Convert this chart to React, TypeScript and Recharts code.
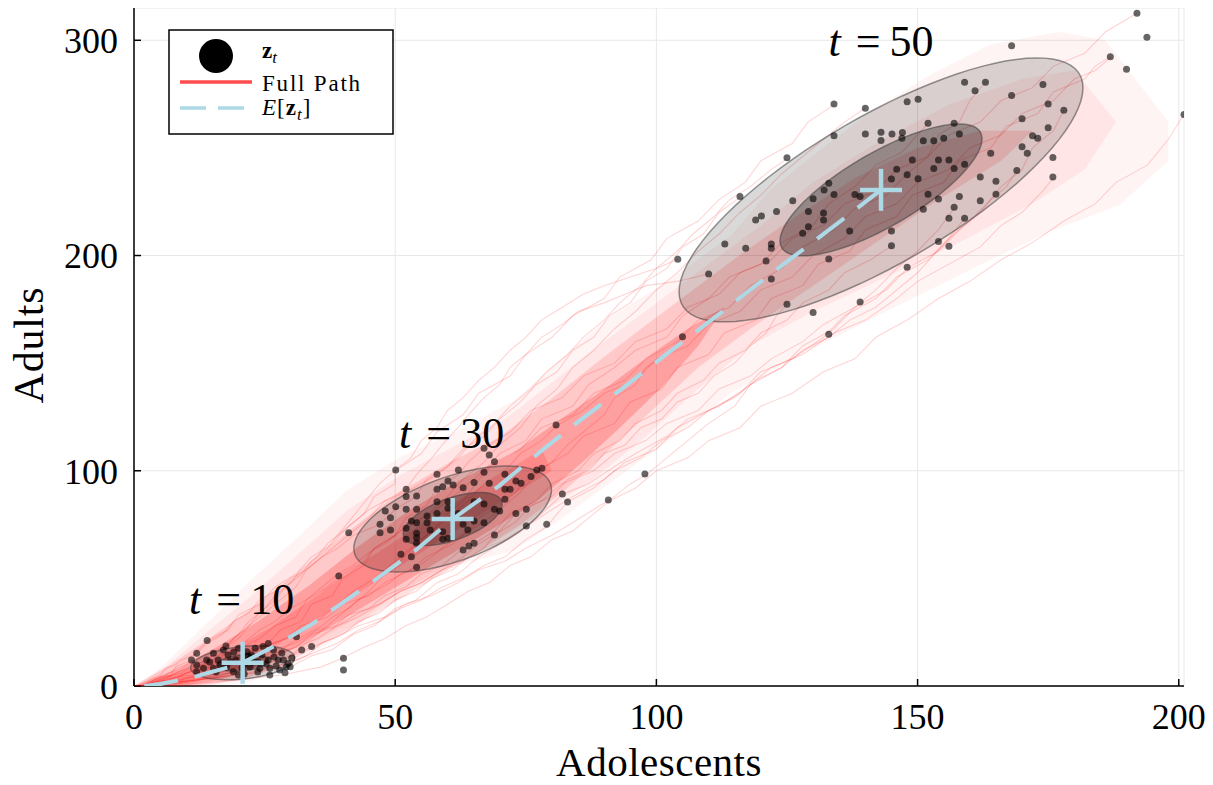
import React from 'react';
import { ComposedChart, Scatter, XAxis, YAxis, CartesianGrid, Legend } from 'recharts';

type P = [number, number];

const FONT = "'Liberation Serif', 'DejaVu Serif', serif";

const xTicks = [0, 50, 100, 150, 200];
const yTicks = [0, 100, 200, 300];

// sampled states z_t at t = 10, 30, 50
const pointsT10: P[] = [
  [14.0,21.1],[12.0,15.2],[11.0,12.1],[12.0,9.8],[12.0,6.6],[13.9,12.1],[15.2,15.2],[16.1,12.1],[17.1,16.7],[17.7,9.0],
  [19.0,6.6],[20.0,17.5],[21.6,15.9],[22.5,14.4],[23.2,17.5],[24.7,18.3],[25.7,19.8],[26.7,16.7],[23.8,11.3],[25.7,12.1],
  [27.6,12.1],[28.6,12.1],[29.5,10.5],[29.9,9.0],[27.9,7.4],[26.0,8.2],[24.1,8.2],[22.2,9.0],[28.9,6.2],[20.0,5.1],
  [15.2,8.2],[32.1,16.7],[34.0,18.3],[31.1,22.9],[40.1,12.9],[40.1,7.4],[13.3,8.2],[22.2,12.9],[21.2,10.5],[18.4,11.3],
  [16.5,9.8],[18.0,14.4],[19.5,12.1],[20.7,8.4],[21.8,13.9],[23.0,11.2],[24.5,14.4],[25.3,10.2],[26.8,13.5],[27.2,9.3],
  [28.3,15.3],[30.2,13.0],[14.5,11.2],[15.7,6.5],[23.7,6.5],[26.0,5.1],[21.1,5.6],[17.6,18.6],[19.1,15.8],[29.1,8.8],
];

const pointsT30: P[] = [
  [67.0,110.5],[68.0,107.3],[69.0,104.2],[50.1,100.4],[58.0,98.4],[62.1,100.4],[67.0,99.3],[71.0,98.4],[76.0,97.3],[77.1,100.4],
  [78.1,101.2],[60.1,95.3],[59.1,92.6],[61.1,93.4],[65.1,94.5],[68.0,94.2],[73.1,95.3],[74.1,94.2],[63.0,92.1],[71.0,91.4],
  [72.0,91.4],[52.1,91.4],[58.0,91.4],[52.1,88.0],[54.1,88.3],[58.0,85.6],[60.1,85.6],[65.1,85.6],[67.0,84.6],[71.0,86.8],
  [82.0,89.2],[83.0,85.5],[50.1,83.3],[48.1,81.3],[52.1,82.1],[54.1,82.1],[60.1,82.6],[69.0,82.1],[70.0,81.3],[75.1,82.1],
  [73.1,80.2],[49.1,78.2],[56.1,79.0],[58.0,80.2],[62.1,80.2],[47.1,75.1],[53.1,76.7],[54.1,75.9],[56.1,75.9],[65.1,76.7],
  [67.0,75.9],[63.0,75.1],[79.0,75.1],[75.1,74.3],[41.1,71.2],[47.1,71.2],[49.1,72.5],[52.1,73.3],[54.1,71.0],[56.7,72.5],
  [59.1,71.7],[63.9,72.5],[52.1,68.2],[54.1,68.9],[59.1,68.2],[60.1,68.6],[69.0,70.2],[65.1,66.3],[64.1,65.1],[63.0,63.2],
  [54.1,66.3],[51.1,61.2],[53.1,60.1],[54.1,55.2],[39.2,51.1],[80.8,121.3],[97.8,98.5],[90.8,86.4],
];

const pointsT50: P[] = [
  [192.0,312.6],[193.9,301.4],[186.9,292.4],[190.0,286.6],[201.0,265.5],[168.0,297.5],[159.0,280.5],[163.0,280.5],[161.0,276.6],[174.0,279.4],
  [168.0,274.3],[175.0,270.4],[178.0,267.5],[148.0,271.5],[150.1,272.6],[170.0,263.5],[175.0,259.4],[172.0,255.6],[173.0,254.5],[152.0,261.5],
  [157.0,261.5],[158.0,256.5],[147.1,257.1],[151.1,253.3],[153.1,253.3],[155.0,254.5],[170.0,250.5],[171.0,247.5],[175.9,245.5],[164.0,247.5],
  [149.0,244.4],[154.0,244.4],[156.0,244.4],[159.0,242.4],[153.1,240.4],[157.0,240.4],[148.0,237.5],[150.1,235.7],[169.0,239.5],[175.9,236.5],
  [162.0,236.5],[165.0,234.5],[165.0,228.5],[162.0,225.4],[158.0,227.4],[152.0,228.5],[154.0,226.3],[157.0,222.4],[151.1,221.5],[156.0,217.3],
  [159.0,217.3],[154.0,206.5],[156.0,204.3],[148.0,194.6],[134.0,270.4],[140.0,268.4],[134.0,255.6],[140.0,256.5],[143.0,257.3],[143.0,253.4],
  [145.1,256.5],[125.0,245.4],[116.0,227.4],[126.1,225.5],[123.0,220.4],[120.1,218.4],[119.0,216.5],[133.0,233.6],[132.1,230.5],[130.0,226.4],
  [134.0,228.3],[138.0,228.3],[139.0,227.4],[129.1,220.4],[132.0,219.7],[132.0,216.5],[129.1,213.4],[128.0,210.4],[137.0,211.4],[145.0,211.4],
  [145.0,204.5],[133.0,198.4],[113.1,205.4],[117.1,203.4],[122.0,205.4],[122.0,203.4],[121.0,197.5],[104.1,198.3],[110.0,191.4],[122.0,189.1],
  [125.0,177.4],[130.0,173.5],[139.0,178.4],[133.0,163.4],[105.0,162.3],[146.0,240.1],[145.0,235.5],[147.0,254.5],
];

// expected value E[z_t]
const meanPath: P[] = [
  [2,0],[5,0.9],[8.5,2.6],[12,4.6],[15,6.6],[18,8.6],[20.8,10.8],[26.7,18.3],[34.3,29.1],[40.7,40],[47,50.8],[54,63.2],
  [61,77.6],[70,93.2],[78.2,109.7],[86,124.6],[94.1,139.4],[102,154.3],[110.2,169.4],[118,184.2],[126,199],[134.5,214.6],[143,230.5],
];
const meanMarks: P[] = [[20.8,10.8],[61.0,77.6],[143.0,230.5]];

const timeLabels = [
  { x: 20.6, y: 33.5, t: '10' },
  { x: 60.8, y: 110.6, t: '30' },
  { x: 143.0, y: 292.8, t: '50' },
];

// 1-sigma spread of z_t: mean and lower-triangular factor [[a,0],[b,c]]
const spreadT10 = { mx: 20.8, my: 10.8, a: 4.98, b: 1.16, c: 3.78 };
const spreadT30 = { mx: 61.0, my: 77.6, a: 9.46, b: 6.82, c: 10.25 };
const spreadT50 = { mx: 143.0, my: 230.5, a: 19.33, b: 23.7, c: 19.45 };

// density envelopes of all simulated paths (outer → inner)
const bandOuter: P[] = [
  [0,0],[5.0,8.4],[12.6,26.0],[21.8,47.9],[31.8,70.2],[40.8,91.1],[50.9,106.4],[62.4,119.0],[72.9,132.9],[81.5,151.5],
  [91.1,171.5],[102.6,188.7],[114.4,209.6],[121.7,230.5],[131.3,249.1],[140.9,266.7],[152.3,283.9],[163.8,297.9],[177.2,304],[186,300],
  [198,262],[198,244],[188.7,223.5],[175.3,211.0],[161.9,195.6],[148.5,179.4],[137.0,165.4],[125.6,151.5],[114.4,136.2],[102.6,114.3],
  [91.1,94.3],[81.5,77.1],[72.9,63.2],[62.4,56.2],[50.9,44.6],[40.8,24.6],[31.8,12.1],[21.8,1.4],[12.6,0],
];
const bandMid: P[] = [
  [0,0],[6,9],[13.5,24],[22,41],[31.8,62],[41,82],[51,98],[61,111],[71,124],[80,141],[90,160],[100,178],[110,196],[120,214],
  [130,234],[142,252],[156,270],[170,282],[180,286],
  [188,262],[182,240],[172,224],[158,206],[144,190],[130,174],[118,158],[108,138],[98,116],[88,96],[79,82],[70,68],[60,56],
  [50,42],[40,28],[31,15],[23,5],[14,0],
];
const bandCore: P[] = [
  [0,0],[6.9,9.8],[14.5,22.3],[22.2,35.3],[31.8,53],[41.3,72.5],[50.9,90.1],[60.5,104.1],[70,115.7],[79.6,132.9],
  [89.2,151.5],[98.8,169.1],[108.3,186.3],[116,200.3],[126,217],[138,236],[150,250],[162,258],[172,258],
  [166,244],[154,226],[142,206],[130,186],[118,166],[108,148],[100,130],[92,112],[83,92],[74,75],[64.3,60],
  [54.7,46],[45.2,32],[35.6,19],[27.9,9],[20.3,2.5],[10.7,0],
];
const bandDeep: P[] = [
  [0,0],[8.8,8.4],[16.5,19],[24.1,30.7],[33.7,47],[43.3,65.5],[52.8,81.8],[62.4,95.7],[72,107.3],[81.5,123.6],[91.1,139.9],
  [98.8,153.8],[106,166],[113,176],
  [108,158],[100.7,138],[93,120],[85.4,103],[77.7,87],[70,75],[60.5,61],[50.9,47],[41.3,33],[31.8,19],[24.1,9.8],[16.5,2.8],[8.8,0],
];
const bandInner: P[] = [
  [0,0],[10,7],[18,16],[26,27],[35,42],[44,58],[53,72],[62,86],[70,98],[78,110],
  [80,100],[72,88],[64,76],[55,62],[46,48],[37,34],[28,20],[20,9],[12,2],[5,0],
];

// a selection of individual simulated paths
const path01: P[] = [[2,0],[4,3],[7,5],[8,9],[11,12],[12,16],[14,21],[18,26],[20,33],[24,38],[27,46],[31,52],[34,60],[38,66],[41,74],[44,80],[46,88],[50,94],[50,100],[55,108],[58,118],[63,126],[66,136],[72,144],[75,154],[80,162],[84,172],[90,180],[93,190],[99,198],[102,208],[108,216],[112,226],[117,234],[120,244],[126,252],[129,262],[134,270]];
const path02: P[] = [[2,0],[6,1],[9,2],[13,3],[16,4],[19,5],[23,6],[26,8],[30,9],[34,14],[38,17],[42,24],[46,28],[50,36],[54,40],[58,48],[62,52],[66,60],[70,66],[74,72],[78,80],[82,89],[87,94],[92,102],[96,108],[102,116],[106,124],[112,130],[118,140],[122,148],[128,154],[134,164],[140,170],[146,180],[150,188],[156,196],[162,204],[166,214],[170,220],[174,230],[176,236]];
const path03: P[] = [[2,0],[5,2],[8,6],[10,8],[13,11],[15,14],[18,15],[20,17.5],[24,22],[27,28],[31,32],[33,40],[37,46],[40,52],[44,58],[46,64],[50,70],[53,76],[57,80],[60,86],[63,92],[67,100],[70,108],[75,114],[78,124],[84,130],[87,140],[92,148],[96,156],[102,162],[105,172],[110,180],[114,190],[120,196],[124,206],[130,214],[133,224],[138,232],[142,242],[147,248],[150,256],[152,261.5]];
const path04: P[] = [[2,0],[6,2],[9,3],[13,6],[16,7],[19,10],[22,11],[25,14],[27,17],[31,20],[35,26],[39,28],[43,34],[47,38],[51,44],[55,48],[59,54],[63,58],[67,64],[71,68],[75,74],[80,82],[84,88],[90,96],[94,104],[100,110],[104,120],[110,128],[116,136],[120,146],[126,152],[132,162],[136,172],[142,180],[146,190],[152,198],[156,208],[160,216],[164,226],[167,232],[169,239.5]];
const path05: P[] = [[2,0],[3,3],[5,5],[6,8],[8,10],[9,12],[12,15],[14,20],[17,24],[19,30],[22,34],[24,40],[27,44],[30,50],[33,54],[36,60],[39,64],[42,70],[47,75],[50,82],[54,88],[56,96],[60,102],[63,110],[67,116],[70,124],[74,132],[77,140],[81,146],[84,156],[88,162],[91,172],[95,178],[98,188],[102,194],[105,204],[109,210],[112,220],[116,227]];
const path06: P[] = [[2,0],[5,1],[8,3],[11,4],[14,6],[17,7],[20,9],[24,11],[27,15],[31,18],[34,24],[38,27],[41,33],[45,36],[48,42],[52,46],[55,52],[59,56],[62,62],[65,66],[69,72],[72,80],[77,86],[80,94],[85,100],[88,108],[93,114],[96,122],[101,128],[104,136],[109,142],[112,150],[117,156],[120,164],[125,170],[128,178],[133,184],[136,192],[141,198],[145,204.5]];
const path07: P[] = [[2,0],[7,1],[11,1],[16,2],[20,3],[24,4],[28,5],[32,7],[36,9],[40,13],[44,18],[48,22],[52,28],[56,32],[60,38],[64,44],[68,48],[72,56],[76,60],[80,68],[84,72],[88,80],[91,86],[96,92],[100,100],[106,106],[110,114],[116,120],[120,130],[126,136],[132,146],[138,152],[142,162],[148,170],[154,180],[160,188],[166,198],[172,206],[178,216],[184,224],[188,234],[194,242],[198,254],[201,265.5]];
const path08: P[] = [[2,0],[5,3],[8,4],[11,7],[14,9],[17,12],[20,14],[23,17],[26,19],[29,22],[31,23],[35,30],[38,36],[42,44],[46,50],[50,58],[53,64],[57,72],[60,78],[64,86],[67,94],[71,100],[74,108],[78,114],[81,121],[86,128],[90,136],[96,142],[100,152],[106,158],[110,168],[116,174],[120,184],[126,190],[130,200],[136,208],[140,218],[146,224],[150,234],[156,240],[160,250],[166,256],[170,266],[176,272],[180,282],[184,286],[187,292]];
const path09: P[] = [[2,0],[4,2],[6,4],[9,6],[11,9],[13,11],[15,14],[17,17],[20,22],[22,28],[25,34],[28,40],[31,46],[33,54],[36,60],[39,66],[42,72],[45,78],[48,86],[52,90],[55,94],[58,98],[62,106],[65,114],[69,122],[72,130],[76,138],[79,146],[83,154],[86,162],[90,170],[93,178],[97,186],[100,194],[104,202],[107,210],[111,218],[114,226],[118,232],[122,240],[125,245]];
const path10: P[] = [[2,0],[5,1],[8,2],[11,4],[14,5],[17,7],[20,8],[23,9],[26,11],[29,12],[32,18],[35,24],[38,30],[42,38],[45,44],[48,52],[51,58],[54,66],[57,72],[60,80],[63,86],[66,96],[69,104],[74,110],[78,120],[84,126],[88,136],[94,142],[98,152],[104,160],[108,170],[114,176],[118,186],[124,194],[128,204],[134,212],[138,222],[144,228],[148,238],[152,246],[154,256],[158,262],[160,272],[163,280.5]];
const path11: P[] = [[2,0],[5,1],[8,2],[11,3],[13,5],[16,6],[19,8],[22,9],[25,12],[28,16],[30,20],[33,24],[36,28],[38,32],[41,36],[43,40],[46,44],[49,48],[51,52],[54,55],[57,60],[60,66],[64,72],[66,78],[70,84],[73,90],[76,98],[80,104],[83,112],[86,118],[90,126],[92,134],[96,140],[98,148],[102,154],[105,162]];
const path12: P[] = [[2,0],[6,1],[10,2],[14,4],[18,6],[22,8],[26,11],[30,14],[34,18],[38,22],[43,28],[48,32],[52,38],[57,42],[62,48],[66,54],[71,58],[75,64],[80,70],[84,76],[88,82],[92,88],[95,94],[98,98],[102,106],[106,114],[110,122],[115,130],[118,140],[124,148],[128,158],[134,166],[138,176],[144,184],[148,194],[154,202],[158,212],[162,220],[166,232],[170,240],[172,250],[176,258],[178,267.5]];
const path13: P[] = [[2,0],[4,2],[7,3],[9,5],[11,7],[13,9],[16,12],[18,16],[21,20],[24,26],[27,30],[30,36],[33,40],[36,46],[39,52],[42,56],[45,62],[48,66],[51,72],[54,76],[56,79],[60,88],[63,96],[67,104],[70,112],[74,120],[77,130],[81,138],[84,148],[88,156],[92,166],[96,174],[100,184],[104,192],[108,202],[112,210],[116,220],[120,228],[124,238],[128,246],[132,254],[136,262],[140,268.4]];
const path14: P[] = [[2,0],[5,1],[8,1],[11,2],[13,3],[16,4],[19,6.6],[23,10],[27,14],[31,18],[35,22],[39,28],[43,32],[47,38],[51,44],[55,48],[59,54],[63,60],[66,66],[70,72],[73,80],[78,86],[82,94],[88,100],[92,108],[98,114],[102,122],[108,128],[112,138],[118,144],[122,152],[128,160],[132,168],[138,176],[142,184],[146,194],[150,202],[154,212],[157,222]];
const path15: P[] = [[2,0],[4,2],[8,3],[10,6],[14,8],[16,11],[20,13],[22,16],[25.7,19.8],[28,26],[32,30],[34,38],[38,42],[40,50],[44,56],[46,64],[50,70],[52,78],[56,84],[58,92],[62,98],[64,104],[67,110.5],[72,118],[76,128],[82,134],[86,144],[92,150],[96,160],[102,166],[106,176],[112,182],[116,192],[122,198],[126,208],[132,214],[136,224],[142,230],[146,240],[152,246],[156,256],[162,262],[166,272],[172,278],[176,288],[182,294],[186,304],[192,312.6]];
const path16: P[] = [[2,0],[5,2],[8,4],[11,5],[14,8],[17,10],[20,13],[22,15],[24.7,18.3],[29,22],[32,28],[37,32],[40,38],[45,42],[48,48],[53,54],[56,60],[61,66],[64,72],[68,78],[71,84],[74,90],[76,96],[78.1,101.2],[83,108],[86,116],[92,122],[95,132],[101,138],[104,148],[110,154],[113,164],[119,170],[122,180],[128,186],[131,196],[137,202],[140,212],[146,218],[149,228],[155,234],[158,244],[164,250],[167,260],[173,266],[176,276],[182,282],[184,288],[186.9,292.4]];
const path17: P[] = [[2,0],[4,3],[6,5],[8,8],[10,10],[12,13],[14,15],[16,17],[17.6,18.6],[20,24],[22,30],[25,36],[27,42],[30,48],[32,54],[35,60],[37,66],[40,72],[42,76],[45,82],[48,86],[52.1,91.4],[54,98],[57,106],[59,112],[62,120],[64,126],[67,134],[70,140],[72,148],[75,154],[78,162],[82,168],[85,174],[90,178],[94,182],[98,186],[104,188],[110,191.4]];
const path18: P[] = [[2,0],[6,1],[9,2],[12,3],[15,4],[18,6],[21,7],[24,8],[27,9],[29.5,10.5],[33,14],[36,20],[40,24],[43,30],[47,34],[50,40],[54,44],[57,50],[61,54],[64,60],[67,64],[69,70.2],[73,76],[76,84],[80,88],[83,96],[87,100],[90,108],[94,112],[97,120],[101,124],[104,132],[108,136],[111,144],[115,150],[118,158],[121,164],[123,172],[125,177.4]];
const path19: P[] = [[2,0],[6,1],[9,2],[13,3],[16,4],[19,5],[22,6],[25,8],[27.2,9.3],[31,12],[35,16],[39,20],[43,26],[47,30],[51,36],[55,40],[59,46],[63,50],[67,56],[71,60],[75,68],[79,74],[81,80],[83,85.5],[88,92],[92,100],[97,106],[101,114],[106,120],[110,128],[115,134],[119,142],[124,148],[128,156],[133,162],[137,170],[142,176],[146,184],[150,192],[153,200],[156,208],[159,217.3]];
const path20: P[] = [[2,0],[3,2],[5,4],[7,5],[9,7],[11,8],[13,10],[14.5,11.2],[17,16],[19,22],[22,28],[24,34],[27,40],[29,46],[32,52],[34,58],[37,64],[39,70],[41,76],[43,82],[45,88],[47,94],[50.1,100.4],[53,106],[55,114],[58,120],[60,128],[63,134],[66,142],[69,148],[72,156],[75,162],[78,170],[82,176],[86,182],[90,186],[95,190],[100,194],[104.1,198.3]];
const samplePaths: P[][] = [
  path01, path02, path03, path04, path05, path06, path07, path08, path09, path10,
  path11, path12, path13, path14, path15, path16, path17, path18, path19, path20,
];

const toXY = (arr: P[]) => arr.map(([x, y]) => ({ x, y }));

const ellipse = (e: { mx: number; my: number; a: number; b: number; c: number }, k: number) => {
  const pts: { x: number; y: number }[] = [];
  for (let i = 0; i <= 90; i++) {
    const th = (i / 90) * 2 * Math.PI;
    pts.push({ x: e.mx + k * e.a * Math.cos(th), y: e.my + k * (e.b * Math.cos(th) + e.c * Math.sin(th)) });
  }
  return pts;
};

const closedShape = (style: any) => (props: any) => {
  const pts = (props && props.points) || [];
  if (!pts.length) return <g />;
  const d = pts.map((p: any, i: number) => `${i ? 'L' : 'M'}${p.x},${p.y}`).join('') + 'Z';
  return <path d={d} {...style} />;
};

const Empty = () => <g />;
const Dot = (p: any) => <circle cx={p.cx} cy={p.cy} r={3.5} fill="#000" fillOpacity={0.6} />;
const Cross = (p: any) => (
  <g stroke="#add8e6" strokeWidth={4.5}>
    <line x1={p.cx - 21} y1={p.cy} x2={p.cx + 21} y2={p.cy} />
    <line x1={p.cx} y1={p.cy - 21} x2={p.cx} y2={p.cy + 21} />
  </g>
);
const TimeLabel = (p: any) => (
  <text x={p.cx} y={p.cy} textAnchor="middle" fontSize={44} fill="#000" fontFamily={FONT}>
    <tspan fontStyle="italic">t</tspan>
    <tspan dx={15}>=</tspan>
    <tspan dx={9}>{p.payload && p.payload.t}</tspan>
  </text>
);

const XLabel = (props: any) => {
  const vb = props.viewBox || { x: 126, y: 678, width: 1050, height: 99 };
  return (
    <text x={vb.x + vb.width / 2} y={vb.y + 90} textAnchor="middle" fontSize={41} fill="#000" fontFamily={FONT} letterSpacing={0.5}>
      Adolescents
    </text>
  );
};
const YLabel = (props: any) => {
  const vb = props.viewBox || { x: 0, y: 0, width: 126, height: 678 };
  const x = vb.x + 35;
  const y = vb.y + vb.height / 2 - 2;
  return (
    <g transform={`translate(${x}, ${y}) rotate(-90)`}>
      <text x={0} y={0} textAnchor="middle" fontSize={42} fill="#000" fontFamily={FONT} letterSpacing={0.8}>
        Adults
      </text>
    </g>
  );
};

const LegendBox = () => (
  <svg width={228} height={108} style={{ display: 'block' }}>
    <rect x={1} y={1} width={224} height={104} fill="#fff" stroke="#000" strokeWidth={1.5} />
    <circle cx={48} cy={27} r={17} fill="#000" />
    <text x={94} y={29} fontSize={23} fontFamily={FONT} fill="#000">
      <tspan fontWeight="bold">z</tspan>
      <tspan fontSize={17} fontStyle="italic" dy={5}>t</tspan>
    </text>
    <line x1={12} y1={53} x2={84} y2={53} stroke="#ff4d4d" strokeWidth={3.3} />
    <text x={94} y={62} fontSize={23} fontFamily={FONT} fill="#000" letterSpacing={1.8}>Full Path</text>
    <line x1={12} y1={79} x2={80} y2={79} stroke="#add8e6" strokeWidth={3.3} strokeDasharray="26 12" />
    <text x={94} y={86} fontSize={23} fontFamily={FONT} fill="#000" letterSpacing={1}>
      <tspan fontStyle="italic">E</tspan>
      <tspan>[</tspan>
      <tspan fontWeight="bold">z</tspan>
      <tspan fontSize={17} fontStyle="italic" dy={5}>t</tspan>
      <tspan dy={-5}>]</tspan>
    </text>
  </svg>
);

export default function App() {
  const ellipses = [spreadT10, spreadT30, spreadT50];
  const bands: [P[], number][] = [[bandOuter, 0.045], [bandMid, 0.06], [bandCore, 0.12], [bandDeep, 0.2], [bandInner, 0.15]];
  return (
    <div style={{ fontFamily: FONT, width: 1205, height: 777 }}>
      <ComposedChart width={1205} height={777} margin={{ top: 0, right: 29, bottom: 0, left: 0 }}>
        <CartesianGrid stroke="#e8e8e8" strokeWidth={1} />
        <XAxis
          type="number"
          dataKey="x"
          domain={[0, 201]}
          ticks={xTicks}
          allowDataOverflow
          height={99}
          axisLine={{ stroke: '#000', strokeWidth: 1.5 }}
          tickLine={{ stroke: '#000', strokeWidth: 1.5 }}
          tickSize={-7}
          tickMargin={24}
          tick={{ fontSize: 36, fill: '#000', fontFamily: FONT }}
          label={XLabel}
        />
        <YAxis
          type="number"
          dataKey="y"
          domain={[0, 315]}
          ticks={yTicks}
          allowDataOverflow
          width={126}
          axisLine={{ stroke: '#000', strokeWidth: 1.5 }}
          tickLine={{ stroke: '#000', strokeWidth: 1.5 }}
          tickSize={-7}
          tickMargin={23}
          tick={{ fontSize: 36, fill: '#000', fontFamily: FONT }}
          label={YLabel}
        />
        {bands.map(([b, a], i) => (
          <Scatter key={`band-${i}`} data={toXY(b)} shape={Empty} line={closedShape({ fill: '#ff0000', fillOpacity: a, stroke: 'none' })} isAnimationActive={false} legendType="none" />
        ))}
        {samplePaths.map((p, i) => (
          <Scatter key={`path-${i}`} data={toXY(p)} shape={Empty} line={{ stroke: '#ff0000', strokeOpacity: 0.17, strokeWidth: 1.1 }} isAnimationActive={false} legendType="none" />
        ))}
        {ellipses.map((e, i) => (
          <Scatter key={`outer-${i}`} data={ellipse(e, 2)} shape={Empty} line={closedShape({ fill: '#000', fillOpacity: 0.15, stroke: '#404040', strokeOpacity: 0.55, strokeWidth: 1.5 })} isAnimationActive={false} legendType="none" />
        ))}
        {ellipses.map((e, i) => (
          <Scatter key={`inner-${i}`} data={ellipse(e, 1)} shape={Empty} line={closedShape({ fill: '#000', fillOpacity: 0.3, stroke: '#404040', strokeOpacity: 0.55, strokeWidth: 1.5 })} isAnimationActive={false} legendType="none" />
        ))}
        <Scatter data={toXY(pointsT10)} shape={Dot} isAnimationActive={false} legendType="none" />
        <Scatter data={toXY(pointsT30)} shape={Dot} isAnimationActive={false} legendType="none" />
        <Scatter data={toXY(pointsT50)} shape={Dot} isAnimationActive={false} legendType="none" />
        <Scatter data={toXY(meanPath)} shape={Empty} line={{ stroke: '#add8e6', strokeWidth: 4, strokeDasharray: '34 17' }} isAnimationActive={false} legendType="none" />
        <Scatter data={toXY(meanMarks)} shape={Cross} isAnimationActive={false} legendType="none" />
        <Scatter data={timeLabels} shape={TimeLabel} isAnimationActive={false} legendType="none" />
        <Legend
          layout="vertical"
          align="center"
          verticalAlign="middle"
          content={LegendBox}
          wrapperStyle={{ top: 21, left: 160, width: 228, height: 108, right: 'auto', bottom: 'auto' }}
        />
      </ComposedChart>
    </div>
  );
}
